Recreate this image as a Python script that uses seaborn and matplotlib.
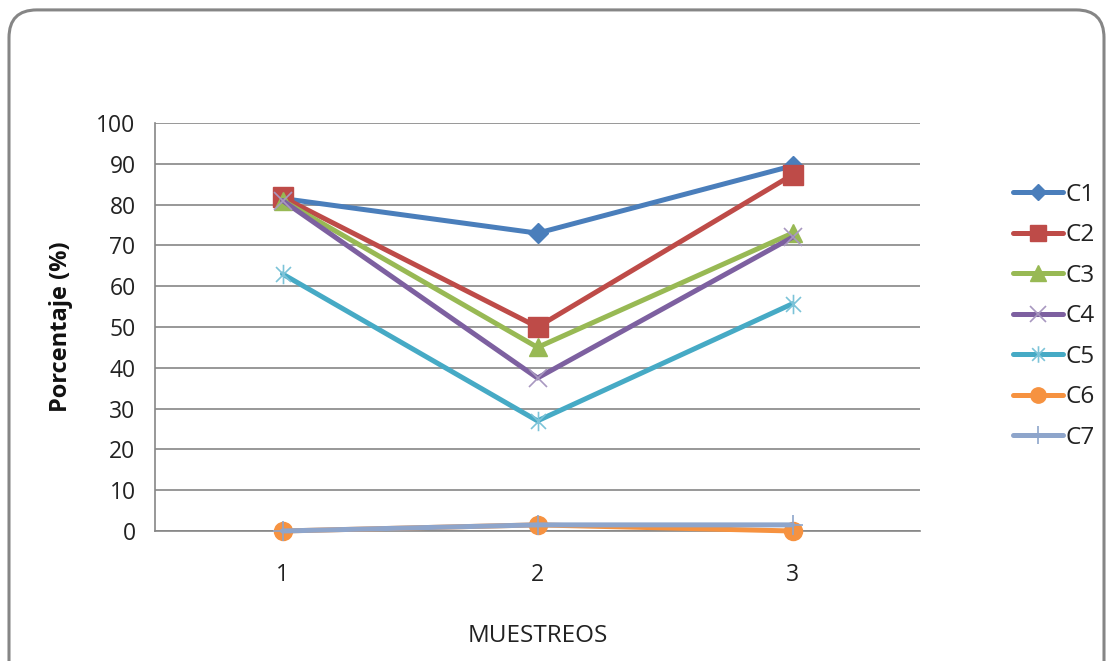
import matplotlib
matplotlib.use("Agg")
import matplotlib.pyplot as plt
from matplotlib.patches import FancyBboxPatch
from matplotlib.lines import Line2D
from matplotlib.path import Path
import seaborn as sns
import pandas as pd

# Sampling rounds and percentage per series
muestreos = [1, 2, 3]
series = ["C1", "C2", "C3", "C4", "C5", "C6", "C7"]
c1 = [81.5, 73.0, 89.5]
c2 = [81.8, 50.0, 87.3]
c3 = [81.0, 45.0, 73.0]
c4 = [81.0, 37.5, 72.0]
c5 = [63.0, 27.0, 55.7]
c6 = [0.0, 1.5, 0.0]
c7 = [0.0, 1.5, 1.5]
y_ticks = [0, 10, 20, 30, 40, 50, 60, 70, 80, 90, 100]

values = [c1, c2, c3, c4, c5, c6, c7]
df = pd.DataFrame({
    "Muestreo": [m for _ in series for m in muestreos],
    "Serie": [s for s in series for _ in muestreos],
    "Porcentaje": [v for vals in values for v in vals],
})

# Asterisk marker: an "x" crossed by a vertical bar
asterisk = Path(
    [(-1, -1), (1, 1), (-1, 1), (1, -1), (0, -1.3), (0, 1.3)],
    [Path.MOVETO, Path.LINETO, Path.MOVETO, Path.LINETO, Path.MOVETO, Path.LINETO],
)

colors = ["#4A7EBB", "#BE4B48", "#98B954", "#7D60A0", "#46AAC5", "#F69240", "#8EA5CB"]
edge_colors = ["#4A7EBB", "#BE4B48", "#98B954", "#A898C0", "#7CC3D8", "#F69240", "#8EA5CB"]
markers = ["D", "s", "^", "x", asterisk, "o", "+"]
msizes = [10, 14, 13, 13, 14, 13, 15]
mews = [1, 1, 1, 1.2, 1.2, 1, 1.2]

sns.set_theme(style="white")
plt.rcParams["font.family"] = ["Open Sans", "DejaVu Sans"]

fig = plt.figure(figsize=(11.12, 6.61), dpi=100)
fig.patch.set_facecolor("white")

# Rounded frame around the chart
frame = FancyBboxPatch((9 / 1112, -0.05), (1104 - 9) / 1112, 0.985 + 0.05,
                       boxstyle="round,pad=0,rounding_size=0.025",
                       transform=fig.transFigure, facecolor="none",
                       edgecolor="#868686", linewidth=2.2, zorder=-1,
                       mutation_aspect=1112 / 661)
fig.patches.append(frame)

ax = fig.add_axes([155 / 1112, 130 / 661, 765 / 1112, 408 / 661])
ax.set_facecolor("none")

for s, col, ecol, mk, ms, mew in zip(series, colors, edge_colors, markers, msizes, mews):
    sub = df[df["Serie"] == s]
    sns.lineplot(data=sub, x="Muestreo", y="Porcentaje", ax=ax, color=col,
                 linewidth=3.6, marker=mk, markersize=ms, markeredgecolor=ecol,
                 markeredgewidth=mew, legend=False, zorder=3)
for line in ax.get_lines():
    line.set_clip_on(False)

ax.set_xlim(0.5, 3.5)
ax.set_ylim(0, 100)
ax.set_yticks(y_ticks)
ax.set_xticks(muestreos)
ax.set_xticklabels([str(m) for m in muestreos])
ax.yaxis.grid(True, color="#868686", linewidth=1.2)
ax.xaxis.grid(False)
ax.set_axisbelow(True)
for side in ["top", "right"]:
    ax.spines[side].set_visible(False)
for side in ["left", "bottom"]:
    ax.spines[side].set_visible(True)
    ax.spines[side].set_color("#868686")
    ax.spines[side].set_linewidth(1.2)
ax.tick_params(axis="both", length=0, labelsize=16.5, colors="#222222")
ax.tick_params(axis="y", pad=14)
ax.tick_params(axis="x", pad=23)

ax.set_xlabel("MUESTREOS", fontsize=17.5, labelpad=27, color="#222222")
ax.set_ylabel("Porcentaje (%)", fontsize=17, fontweight="bold", labelpad=17,
              color="#111111")

handles = [Line2D([0], [0], color=c, linewidth=3.6, marker=m,
                  markersize=ms * 0.85, markeredgecolor=ec, markeredgewidth=mew)
           for c, ec, m, ms, mew in zip(colors, edge_colors, markers, msizes, mews)]
leg = fig.legend(handles, series, loc="upper left",
                 bbox_to_anchor=(1003 / 1112, 1 - 173 / 661),
                 frameon=False, fontsize=17.5, handlelength=2.05,
                 handletextpad=0.12, labelspacing=0.68, borderaxespad=0)
for t in leg.get_texts():
    t.set_color("#222222")

fig.savefig("out.png", dpi=100, facecolor="white")
